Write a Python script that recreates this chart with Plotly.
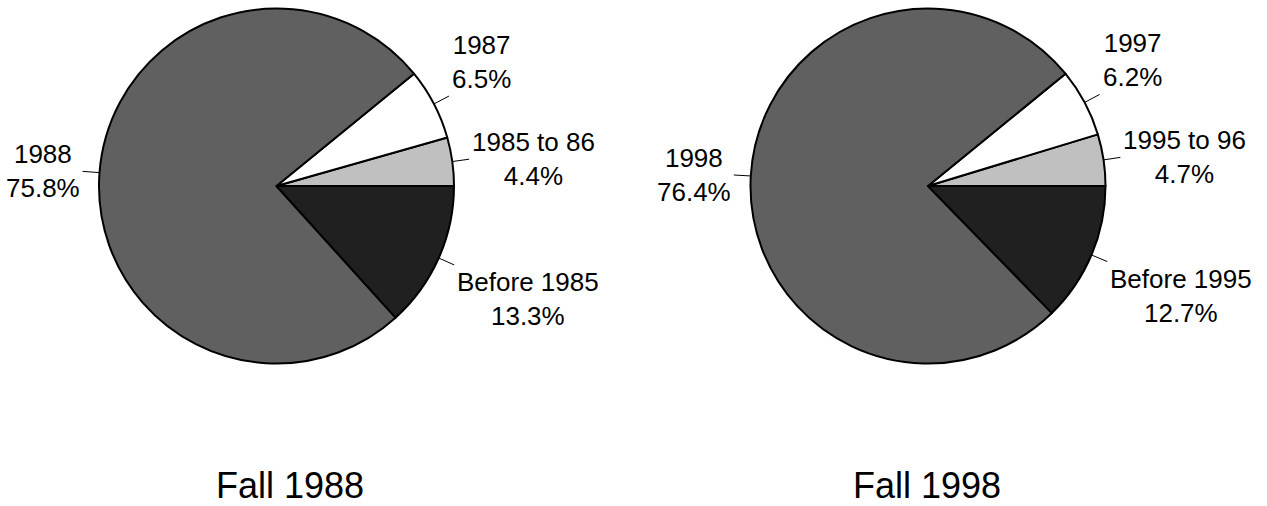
import math
import plotly.graph_objects as go

# ---- data ----
labels_1988 = ["1985 to 86", "1987", "1988", "Before 1985"]
values_1988 = [4.4, 6.5, 75.8, 13.3]
labels_1998 = ["1995 to 96", "1997", "1998", "Before 1995"]
values_1998 = [4.7, 6.2, 76.4, 12.7]
titles = ["Fall 1988", "Fall 1998"]
slice_colors = ["#c0c0c0", "#ffffff", "#606060", "#202020"]

# ---- geometry ----
W, H = 1267, 506
R = 177.5
centers = [(276.5, 186.0), (928.0, 186.0)]
title_x = [289.5, 926.5]
title_y = 485
LABEL_FONT = 26
TITLE_FONT = 36
LEAD = 17
FONT_FAMILY = "Liberation Sans, Arial, sans-serif"

fig = go.Figure()
annotations = []
shapes = []


def px(x):
    return x / W


def py(y):
    return (H - y) / H


for (cx, cy), tx, labs, vals, title in zip(centers, title_x,
                                           [labels_1988, labels_1998],
                                           [values_1988, values_1998], titles):
    total = sum(vals)
    # first slice begins at 3 o'clock and slices run counterclockwise
    rotation = 90 - vals[0] / total * 360
    fig.add_trace(go.Pie(
        labels=labs, values=vals, sort=False, direction="counterclockwise",
        rotation=rotation, textinfo="none", hoverinfo="label+percent",
        marker=dict(colors=slice_colors, line=dict(color="black", width=2)),
        domain=dict(x=[px(cx - R), px(cx + R)], y=[py(cy + R), py(cy - R)]),
        showlegend=False,
    ))
    cum = 0.0
    for lab, v in zip(labs, vals):
        mid = (cum + v / 2) / total * 2 * math.pi
        cum += v
        c, s = math.cos(mid), math.sin(mid)
        x0, y0 = cx + R * c, cy - R * s
        x1, y1 = cx + (R + LEAD) * c, cy - (R + LEAD) * s
        shapes.append(dict(type="line", xref="paper", yref="paper",
                           x0=px(x0), y0=py(y0), x1=px(x1), y1=py(y1),
                           line=dict(color="black", width=1)))
        xanchor = "left" if c >= 0 else "right"
        if s > 0.3:
            yanchor = "bottom"
        elif s < -0.3:
            yanchor = "top"
        else:
            yanchor = "middle"
        annotations.append(dict(
            x=px(x1 + (1 if c >= 0 else -1)), y=py(y1), xref="paper", yref="paper",
            text=f"{lab}<br>{v:.1f}%", showarrow=False, align="center",
            xanchor=xanchor, yanchor=yanchor,
            font=dict(size=LABEL_FONT, color="black", family=FONT_FAMILY)))
    annotations.append(dict(
        x=px(tx), y=py(title_y), xref="paper", yref="paper", text=title,
        showarrow=False, xanchor="center", yanchor="middle",
        font=dict(size=TITLE_FONT, color="black", family=FONT_FAMILY)))

fig.update_layout(
    width=W, height=H, margin=dict(l=0, r=0, t=0, b=0),
    paper_bgcolor="white", plot_bgcolor="white",
    annotations=annotations, shapes=shapes,
)

fig.write_html("out.html", config={"displayModeBar": False},
               post_script="document.body.style.margin='0';"
                           "document.body.style.overflow='hidden';")
